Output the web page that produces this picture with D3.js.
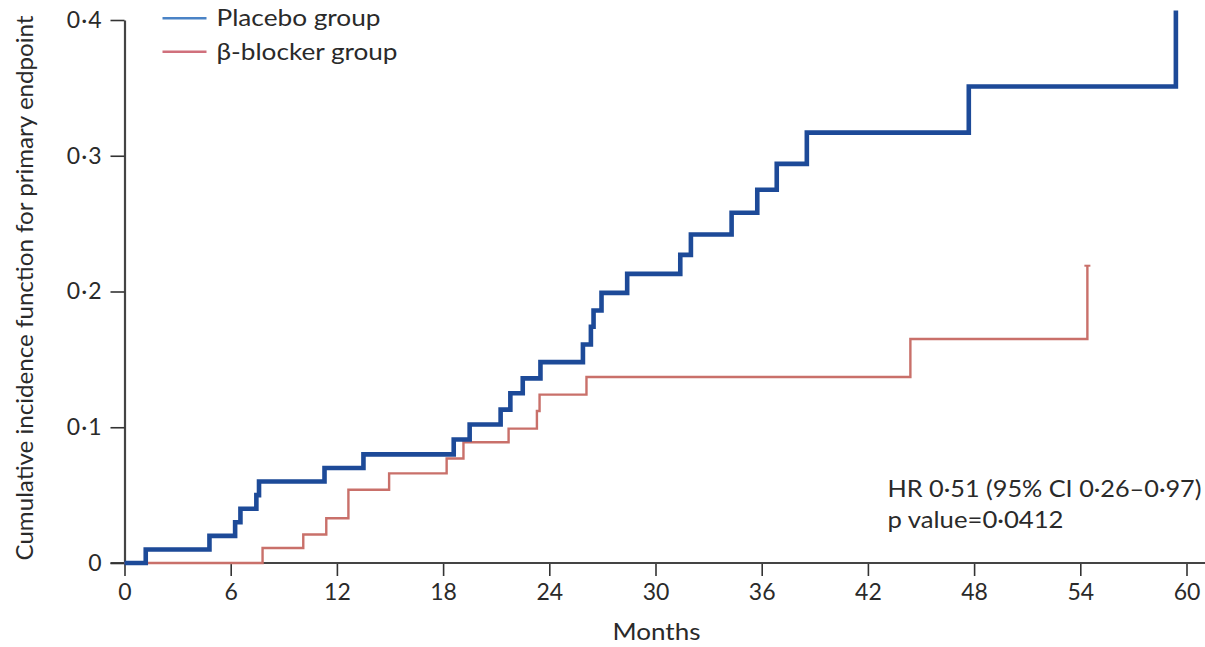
<!DOCTYPE html>
<html>
<head>
<meta charset="utf-8">
<script src="https://cdn.jsdelivr.net/npm/d3@7"></script>
<style>
  body { margin: 0; background: #fff; }
  svg text { font-family: Lato, "Open Sans", sans-serif; fill: #2a2a2a; }
</style>
</head>
<body>
<div id="chart"></div>
<script>
// cumulative incidence
var placeboMonths = [0, 1.2, 4.8, 6.25, 6.55, 7.45, 7.6, 11.3, 13.5, 18.6, 19.5, 21.25, 21.8, 22.5, 23.5, 25.9, 26.35, 26.5, 26.95, 28.4, 31.4, 32.0, 34.3, 35.75, 36.85, 38.55, 47.7, 59.4];
var placeboValues = [0, 0.01, 0.02, 0.03, 0.04, 0.05, 0.06, 0.07, 0.08, 0.091, 0.102, 0.113, 0.125, 0.136, 0.148, 0.161, 0.174, 0.186, 0.199, 0.213, 0.227, 0.242, 0.258, 0.275, 0.294, 0.317, 0.351, 0.407];
var betaMonths = [0, 7.8, 10.1, 11.4, 12.65, 14.95, 18.2, 19.15, 21.7, 23.3, 23.45, 26.1, 44.4, 54.4];
var betaValues = [0, 0.011, 0.021, 0.033, 0.054, 0.066, 0.077, 0.089, 0.099, 0.112, 0.124, 0.137, 0.165, 0.219];

var xTicks = [0, 6, 12, 18, 24, 30, 36, 42, 48, 54, 60];
var yTicks = [0, 0.1, 0.2, 0.3, 0.4];
var yTickLabels = ["0", "0·1", "0·2", "0·3", "0·4"];
var legendLabels = ["Placebo group", "β-blocker group"];
var statsLines = ["HR 0·51 (95% CI 0·26–0·97)", "p value=0·0412"];

var W = 1205, H = 647;
var margin = { top: 20, right: 19, bottom: 84, left: 124.5 };
var width = W - margin.left - margin.right,
  height = H - margin.top - margin.bottom;

var svg = d3.select("#chart")
  .append("svg")
  .attr("width", W)
  .attr("height", H)
  .append("g")
  .attr("transform", "translate(" + margin.left + "," + margin.top + ")");

var x = d3.scaleLinear().domain([0, 60]).range([0, 1062]);
var y = d3.scaleLinear().domain([0, 0.4]).range([height, 0]);

// X axis
var xAxis = svg.append("g")
  .attr("transform", "translate(0," + height + ")")
  .call(d3.axisBottom(x).tickValues(xTicks).tickSize(13).tickSizeOuter(0));
xAxis.select(".domain").remove();
xAxis.append("line")
  .attr("x1", -14).attr("x2", W - margin.left)
  .attr("stroke", "#444").attr("stroke-width", 2.2);
xAxis.selectAll(".tick line").attr("stroke", "#333").attr("stroke-width", 1.6);
xAxis.selectAll(".tick text")
  .attr("y", 21)
  .style("font-size", "23px")
  .style("font-family", "Lato, sans-serif")
  .attr("fill", "#2a2a2a");

// Y axis
var yAxis = svg.append("g")
  .call(d3.axisLeft(y).tickValues(yTicks).tickSize(14).tickSizeOuter(0)
    .tickFormat(function (d, i) { return yTickLabels[i]; }));
yAxis.select(".domain").attr("stroke", "#444").attr("stroke-width", 2.2);
yAxis.selectAll(".tick line").attr("stroke", "#333").attr("stroke-width", 1.6);
yAxis.selectAll(".tick text")
  .attr("x", -22)
  .style("font-size", "23px")
  .style("font-family", "Lato, sans-serif")
  .style("letter-spacing", "1px")
  .attr("fill", "#2a2a2a");

// axis titles
svg.append("text")
  .attr("x", x(30) + 1)
  .attr("y", height + 77)
  .attr("text-anchor", "middle")
  .attr("textLength", 88)
  .attr("lengthAdjust", "spacingAndGlyphs")
  .style("font-size", "23px")
  .text("Months");

svg.append("text")
  .attr("transform", "rotate(-90)")
  .attr("x", -268)
  .attr("y", -margin.left + 33)
  .attr("text-anchor", "middle")
  .attr("textLength", 545)
  .attr("lengthAdjust", "spacingAndGlyphs")
  .style("font-size", "23px")
  .text("Cumulative incidence function for primary endpoint");

// step lines
var line = d3.line()
  .curve(d3.curveStepAfter)
  .x(function (d) { return x(d[0]); })
  .y(function (d) { return y(d[1]); });

var betaData = d3.zip(betaMonths, betaValues);
var placeboData = d3.zip(placeboMonths, placeboValues);

svg.append("path")
  .datum(betaData)
  .attr("d", line)
  .attr("fill", "none")
  .attr("stroke", "#c9706a")
  .attr("stroke-width", 2.4);

// small end tick on beta-blocker curve
var lastB = betaData[betaData.length - 1];
svg.append("line")
  .attr("x1", x(lastB[0]) - 3).attr("x2", x(lastB[0]) + 3)
  .attr("y1", y(lastB[1])).attr("y2", y(lastB[1]))
  .attr("stroke", "#c9706a").attr("stroke-width", 2);

svg.append("path")
  .datum(placeboData)
  .attr("d", line)
  .attr("fill", "none")
  .attr("stroke", "#1d4a98")
  .attr("stroke-width", 4.6);

// legend
var legendColors = ["#4a83c6", "#d0707c"];
var legendWidths = [164, 181];
var legend = svg.selectAll(".legend")
  .data(legendLabels)
  .enter().append("g")
  .attr("transform", function (d, i) { return "translate(38," + (-1.7 + i * 33.4) + ")"; });
legend.append("line")
  .attr("x1", 0).attr("x2", 44)
  .attr("stroke", function (d, i) { return legendColors[i]; })
  .attr("stroke-width", 2.4);
legend.append("text")
  .attr("x", 54)
  .attr("dy", "0.35em")
  .attr("textLength", function (d, i) { return legendWidths[i]; })
  .attr("lengthAdjust", "spacingAndGlyphs")
  .style("font-size", "23px")
  .text(function (d) { return d; });

// stats annotation
var statsWidths = [314, 176];
svg.selectAll(".stats")
  .data(statsLines)
  .enter().append("text")
  .attr("x", 763)
  .attr("y", function (d, i) { return 477 + i * 31; })
  .attr("textLength", function (d, i) { return statsWidths[i]; })
  .attr("lengthAdjust", "spacingAndGlyphs")
  .style("font-size", "23px")
  .text(function (d) { return d; });
</script>
</body>
</html>
